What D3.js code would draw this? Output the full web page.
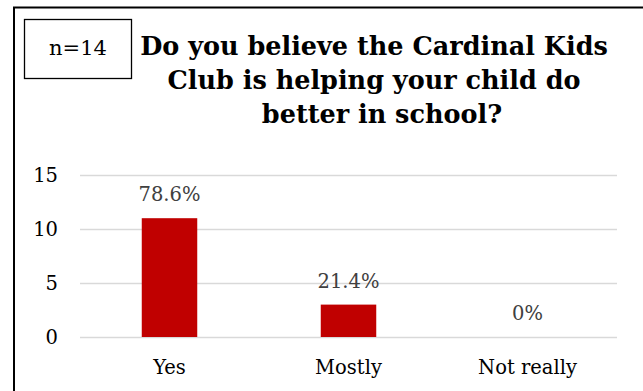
<!DOCTYPE html>
<html>
<head>
<meta charset="utf-8">
<script src="https://cdn.jsdelivr.net/npm/d3@7"></script>
<style>
  body { margin: 0; background: #fff; overflow: hidden; }
  svg { display: block; }
  text { font-family: "DejaVu Serif", serif; }
</style>
</head>
<body>
<svg width="643" height="391"></svg>
<script>
// chart data
var categories = ["Yes", "Mostly", "Not really"];
var counts = [11, 3, 0];
var pctLabels = ["78.6%", "21.4%", "0%"];
var yTicks = [0, 5, 10, 15];
var titleLines = ["Do you believe the Cardinal Kids", "Club is helping your child do", "better in school?"];
var nLabel = "n=14";

var svg = d3.select("svg");

// outer frame: only top and left edges are in the picture
svg.append("path")
  .attr("d", "M14,391 V7.5 H643")
  .attr("fill", "none").attr("stroke", "#000").attr("stroke-width", 2);

// n box
svg.append("rect")
  .attr("x", 24.5).attr("y", 19.5)
  .attr("width", 107).attr("height", 59)
  .attr("fill", "#fff").attr("stroke", "#000").attr("stroke-width", 1.3);
svg.append("text")
  .attr("x", 78).attr("y", 55)
  .attr("text-anchor", "middle")
  .attr("font-size", "21px")
  .text(nLabel);

// title
svg.selectAll(".title")
    .data(titleLines)
  .enter().append("text")
    .attr("class", "title")
    .attr("x", function(d, i){ return i == 2 ? 382 : 374; })
    .attr("y", function(d, i){ return 55 + i * 34; })
    .attr("text-anchor", "middle")
    .attr("font-size", "25.5px")
    .attr("font-weight", "bold")
    .text(function(d){ return d; });

var x = d3.scaleBand().domain(categories).range([80, 617]).paddingInner(0.69).paddingOuter(0.345);
var y = d3.scaleLinear().domain([0, 15]).range([337, 175]);

// gridlines
svg.append("g")
  .attr("transform", "translate(80,0)")
  .call(d3.axisLeft(y).tickValues(yTicks).tickSize(-537).tickFormat(""))
  .call(function(g){
    g.select(".domain").remove();
    g.selectAll("line").attr("stroke", "#d9d9d9").attr("stroke-width", 1.5);
  });

// y labels
svg.append("g")
  .attr("transform", "translate(58,0)")
  .call(d3.axisLeft(y).tickValues(yTicks).tickSize(0).tickPadding(0))
  .call(function(g){
    g.select(".domain").remove();
    g.selectAll("text")
      .attr("font-family", "DejaVu Serif, serif")
      .attr("font-size", "19.5px")
      .attr("fill", "#000")
      .attr("dy", "0.35em");
  });

// bars
svg.selectAll(".bar")
    .data(counts)
  .enter().append("rect")
    .attr("class", "bar")
    .attr("x", function(d, i){ return x(categories[i]); })
    .attr("y", function(d){ return y(d); })
    .attr("width", x.bandwidth())
    .attr("height", function(d){ return y(0) - y(d); })
    .attr("fill", "#c00000");

// value labels
svg.selectAll(".val")
    .data(counts)
  .enter().append("text")
    .attr("class", "val")
    .attr("x", function(d, i){ return x(categories[i]) + x.bandwidth() / 2; })
    .attr("y", function(d){ return y(d) - 17; })
    .attr("text-anchor", "middle")
    .attr("font-size", "19.5px")
    .attr("fill", "#404040")
    .text(function(d, i){ return pctLabels[i]; });

// category labels
svg.append("g")
  .attr("transform", "translate(0,337)")
  .call(d3.axisBottom(x).tickSize(0).tickPadding(0))
  .call(function(g){
    g.select(".domain").remove();
    g.selectAll("text")
      .attr("font-family", "DejaVu Serif, serif")
      .attr("font-size", "19.5px")
      .attr("fill", "#000")
      .attr("dy", null)
      .attr("y", 37);
  });
</script>
</body>
</html>
